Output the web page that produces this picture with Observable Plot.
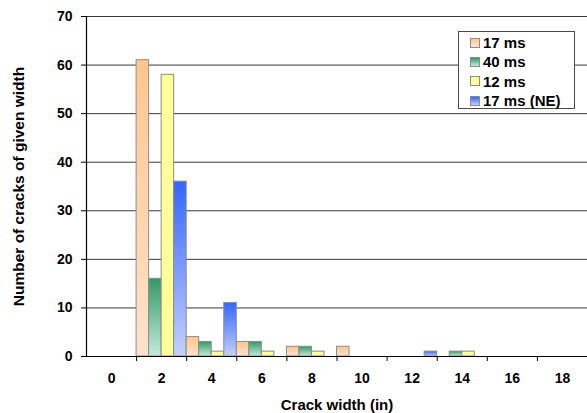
<!DOCTYPE html>
<html>
<head>
<meta charset="utf-8">
<script src="https://cdn.jsdelivr.net/npm/d3@7"></script>
<script src="https://cdn.jsdelivr.net/npm/@observablehq/plot@0.6"></script>
<style>
  body { margin: 0; background: #fff; font-family: "Liberation Sans", Arial, sans-serif; }
  #chart { position: relative; width: 587px; height: 413px; overflow: hidden; }
  .legend {
    position: absolute; left: 458px; top: 31px; width: 117px; height: 78px;
    box-sizing: border-box; border: 1px solid #4a4a4a; background: #fff;
    padding: 1px 0 0 11px; font-weight: bold; font-size: 15px; color: #000;
  }
  .legend .row { height: 19.3px; line-height: 19.3px; display: flex; align-items: center; }
  .legend .sw { width: 8px; height: 8px; border: 1px solid #8c8c8c; margin-right: 3px; }
</style>
</head>
<body>
<div id="chart"></div>
<script>
// Crack width categories (inches) and the count of cracks per series
const widths = [0, 2, 4, 6, 8, 10, 12, 14, 16, 18];
const seriesNames = ["17 ms", "40 ms", "12 ms", "17 ms (NE)"];
const counts17ms   = [0, 61, 4, 3, 2, 2, 0, 0, 0, 0];
const counts40ms   = [0, 16, 3, 3, 2, 0, 0, 1, 0, 0];
const counts12ms   = [0, 58, 1, 1, 1, 0, 0, 1, 0, 0];
const counts17msNE = [0, 36, 11, 0, 0, 0, 1, 0, 0, 0];
const yTicks = [0, 10, 20, 30, 40, 50, 60, 70];
const yLabel = "Number of cracks of given width";
const xLabel = "Crack width (in)";

// Vertical gradients (top colour, bottom colour) for each series
const gradients = [
  ["#ffc68c", "#ffe2cc"],
  ["#339966", "#c4ebdc"],
  ["#ffff99", "#ffff99"],
  ["#3366ff", "#c4d0ff"]
];

const allCounts = [counts17ms, counts40ms, counts12ms, counts17msNE];
const rows = [];
widths.forEach((w, i) => {
  allCounts.forEach((arr, k) => {
    if (arr[i] > 0) rows.push({width: w, k, series: seriesNames[k], count: arr[i]});
  });
});

// Each category spans two units on the x scale; the four series split it evenly.
const slot = 2 / seriesNames.length;
const boundaries = widths.map(w => w + 1);

const plot = Plot.plot({
  width: 587,
  height: 413,
  marginLeft: 86,
  marginRight: 0,
  marginTop: 16,
  marginBottom: 57,
  style: {fontFamily: "'Liberation Sans', Arial, sans-serif", fontSize: "14px", fontWeight: "bold", color: "#000", background: "#fff"},
  x: {domain: [-1, 19]},
  y: {domain: [0, 70]},
  color: {type: "ordinal", domain: seriesNames, range: seriesNames.map((_, k) => `url(#grad${k})`)},
  marks: [
    Plot.gridY(yTicks, {stroke: "#3a3a3a", strokeOpacity: 1, strokeWidth: 1}),
    Plot.rectY(rows, {
      x1: d => d.width - 1 + d.k * slot,
      x2: d => d.width - 1 + (d.k + 1) * slot,
      y1: 0,
      y2: "count",
      fill: "series",
      stroke: "#8c8c8c",
      strokeWidth: 1
    }),
    Plot.ruleY([0], {stroke: "#000", strokeWidth: 1.2}),
    Plot.ruleX([-1], {stroke: "#000", strokeWidth: 1.2}),
    Plot.axisY({ticks: yTicks, tickSize: 5, tickPadding: 9, label: null, fontWeight: "bold", fontSize: 14}),
    Plot.axisX({ticks: widths, tickSize: 0, tickPadding: 17, label: null, fontWeight: "bold", fontSize: 14}),
    Plot.axisX({ticks: boundaries, tickSize: 5, tickFormat: () => "", label: null}),
    Plot.text([yLabel], {text: d => d, frameAnchor: "left", textAnchor: "middle", lineAnchor: "middle", rotate: -90, dx: -67, fontSize: 15.5, fontWeight: "bold"}),
    Plot.text([xLabel], {text: d => d, frameAnchor: "bottom", textAnchor: "middle", lineAnchor: "middle", dy: 49, fontSize: 15, fontWeight: "bold"})
  ]
});

// Gradient definitions referenced by the bar fills
const svgNS = "http://www.w3.org/2000/svg";
const defs = document.createElementNS(svgNS, "defs");
gradients.forEach(([top, bottom], k) => {
  const g = document.createElementNS(svgNS, "linearGradient");
  g.setAttribute("id", `grad${k}`);
  g.setAttribute("x1", "0"); g.setAttribute("y1", "0");
  g.setAttribute("x2", "0"); g.setAttribute("y2", "1");
  [[0, top], [1, bottom]].forEach(([o, c]) => {
    const s = document.createElementNS(svgNS, "stop");
    s.setAttribute("offset", o);
    s.setAttribute("stop-color", c);
    g.appendChild(s);
  });
  defs.appendChild(g);
});
plot.insertBefore(defs, plot.firstChild);

const chart = document.getElementById("chart");
chart.appendChild(plot);

// Legend box inside the plot area
const legend = document.createElement("div");
legend.className = "legend";
seriesNames.forEach((name, k) => {
  const row = document.createElement("div");
  row.className = "row";
  const sw = document.createElement("span");
  sw.className = "sw";
  sw.style.background = `linear-gradient(${gradients[k][0]}, ${gradients[k][1]})`;
  const label = document.createElement("span");
  label.textContent = name;
  row.appendChild(sw);
  row.appendChild(label);
  legend.appendChild(row);
});
chart.appendChild(legend);
</script>
</body>
</html>
